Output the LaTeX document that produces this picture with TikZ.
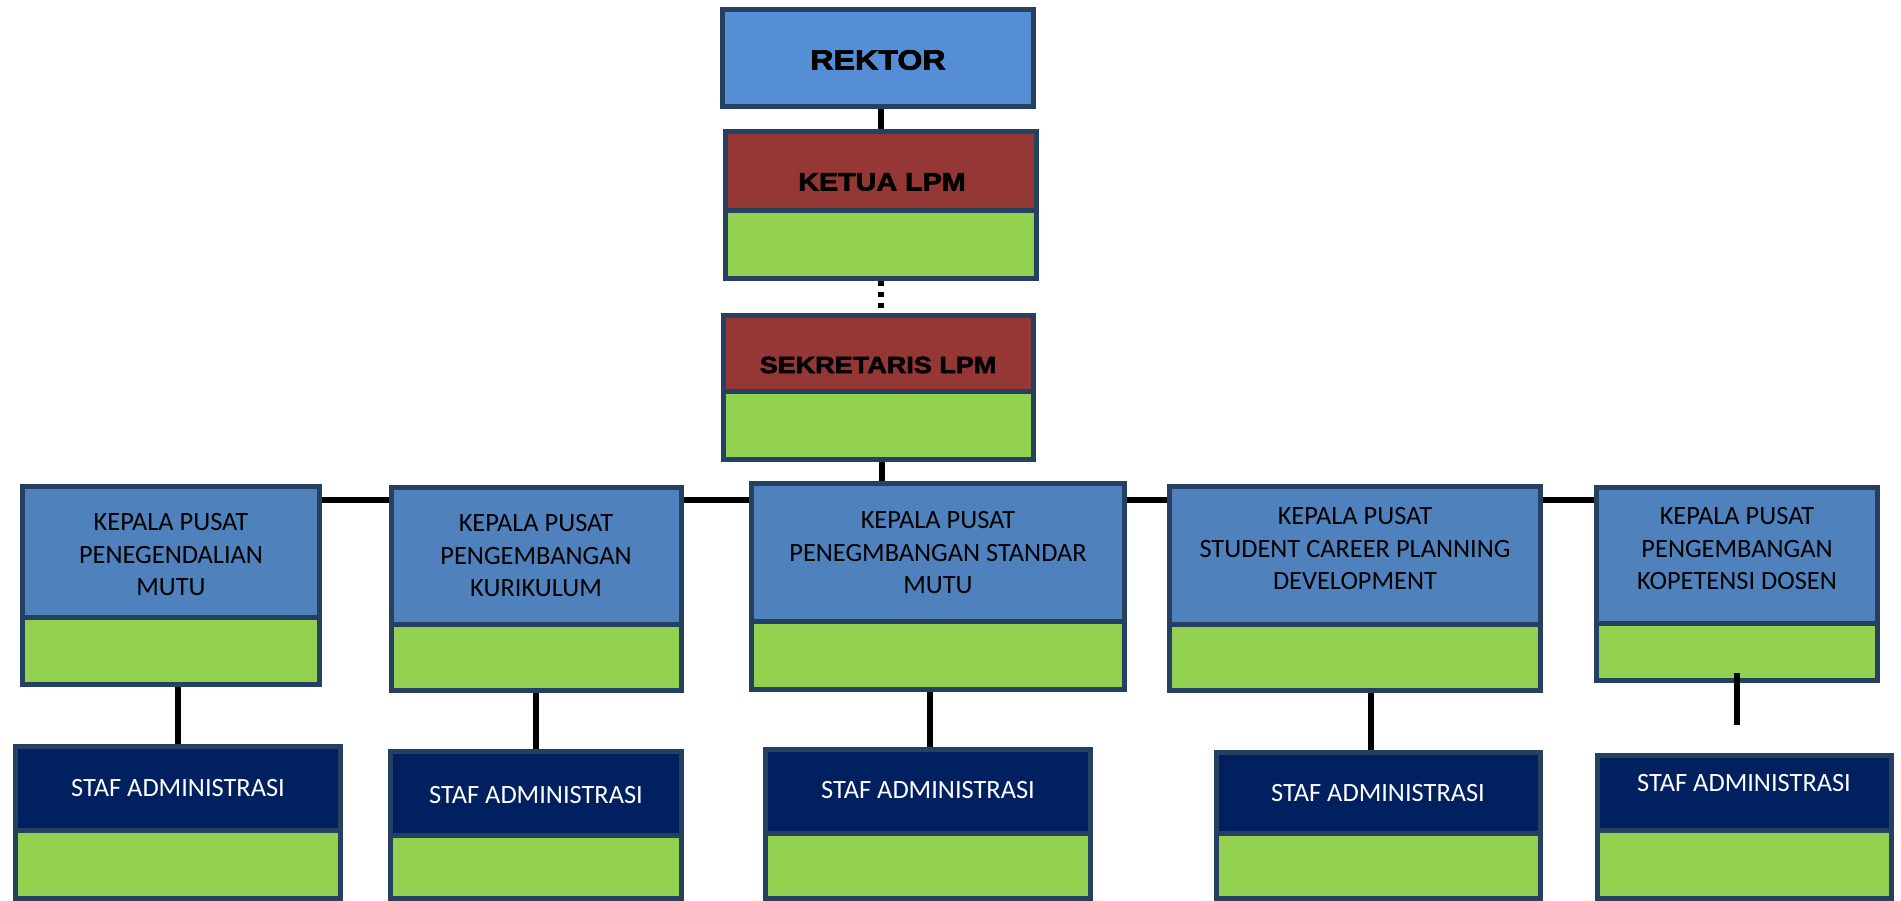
\documentclass[tikz,border=0pt]{standalone}
\usepackage{fontspec}
\usetikzlibrary{backgrounds}
\newfontfamily\calfont{Carlito}
\newfontfamily\hdfont{Liberation Sans Bold}[FakeStretch=1.15, FakeBold=2.5]
\definecolor{rek}{HTML}{558ED5}
\definecolor{kblue}{HTML}{4F81BD}
\definecolor{lred}{HTML}{953735}
\definecolor{grn}{HTML}{92D050}
\definecolor{navy}{HTML}{002060}
\definecolor{edge}{HTML}{254061}
\tikzset{
  box/.style={draw=edge, line width=5pt, rectangle, inner sep=0pt, outer sep=2.5pt},
  conn/.style={draw=black, line width=6pt},
  dotconn/.style={draw=black, line width=6pt, dash pattern=on 5pt off 6pt},
  headtxt/.style={font=\hdfont, text=black, inner sep=0pt},
  kptxt/.style={font=\calfont\fontsize{26.4}{32.5}\selectfont, text=black, align=center, inner sep=0pt},
  stafftxt/.style={font=\calfont\fontsize{26.4}{32.5}\selectfont, text=white, inner sep=0pt}
}
% #1 name, #2 x1, #3 x2, #4 y1, #5 ymid, #6 y2, #7 top fill (outer pixel edges)
\newcommand\orgpair[7]{%
  \pgfmathsetmacro\obx{(#2+#3)/2}%
  \pgfmathsetmacro\obw{#3-#2-5}%
  \pgfmathsetmacro\obt{(#4+2.5+#5)/2}%
  \pgfmathsetmacro\obh{#5-#4-2.5}%
  \pgfmathsetmacro\obg{(#5+#6-2.5)/2}%
  \pgfmathsetmacro\obk{#6-2.5-#5}%
  \node[box, fill=grn, minimum width=\obw pt, minimum height=\obk pt] (#1g) at (\obx,\obg) {};
  \node[box, fill=#7, minimum width=\obw pt, minimum height=\obh pt] (#1) at (\obx,\obt) {};
}
\begin{document}
\begin{tikzpicture}[x=1pt, y=-1pt]
\useasboundingbox (0,0) rectangle (1901,901);

% top chain
\node[box, fill=rek, minimum width=311pt, minimum height=97pt] (rektor) at (878,58) {};
\orgpair{ketua}{723}{1039}{129}{211}{281}{lred}
\orgpair{sek}{721}{1036}{313}{391}{462}{lred}

% heads of centres
\orgpair{box1}{20}{322}{484}{617}{687}{kblue}
\orgpair{box2}{389}{684}{485}{624}{693}{kblue}
\orgpair{box3}{749}{1127}{481}{621}{692}{kblue}
\orgpair{box4}{1167}{1543}{484}{624}{693}{kblue}
\orgpair{box5}{1594}{1880}{485}{623}{683}{kblue}

% staff
\orgpair{staff1}{13}{343}{744}{830}{901}{navy}
\orgpair{staff2}{388}{684}{749}{835}{901}{navy}
\orgpair{staff3}{763}{1093}{747}{833}{901}{navy}
\orgpair{staff4}{1214}{1543}{750}{833}{901}{navy}
\orgpair{staff5}{1595}{1894}{753}{830}{901}{navy}

% texts
\node[headtxt, font=\hdfont\fontsize{28}{32}\selectfont] (trek) at (878,60) {REKTOR};
\node[headtxt, font=\hdfont\fontsize{25}{30}\selectfont] (tket) at (882,182) {KETUA LPM};
\node[headtxt, font=\hdfont\fontsize{23.5}{28}\selectfont] (tsek) at (878,365) {SEKRETARIS LPM};

\node[kptxt] (t1) at (171,555) {KEPALA PUSAT\\PENEGENDALIAN\\MUTU};
\node[kptxt] (t2) at (536,556) {KEPALA PUSAT\\PENGEMBANGAN\\KURIKULUM};
\node[kptxt] (t3) at (938,553) {KEPALA PUSAT\\PENEGMBANGAN STANDAR\\MUTU};
\node[kptxt] (t4) at (1355,549) {KEPALA PUSAT\\STUDENT CAREER PLANNING\\DEVELOPMENT};
\node[kptxt] (t5) at (1737,549) {KEPALA PUSAT\\PENGEMBANGAN\\KOPETENSI DOSEN};

\node[stafftxt] (s1) at (178,788) {STAF ADMINISTRASI};
\node[stafftxt] (s2) at (536,795) {STAF ADMINISTRASI};
\node[stafftxt] (s3) at (928,790) {STAF ADMINISTRASI};
\node[stafftxt] (s4) at (1378,793) {STAF ADMINISTRASI};
\node[stafftxt] (s5) at (1744,783) {STAF ADMINISTRASI};

% connectors
\begin{pgfonlayer}{background}
\fill[white] (0,0) rectangle (1901,901);
\draw[conn] (ketua.north) -- (ketua.north |- rektor.south);
\draw[dotconn] (ketuag.south) -- (ketuag.south |- sek.north);
\draw[conn] ([xshift=3.5pt]sekg.south) -- ([xshift=3.5pt]sekg.south |- box3.north);
\draw[conn] ([yshift=-16pt]box1.north east) -- ([yshift=-16pt]box1.north east -| box5.west);
\draw[conn] (staff1.north) -- (staff1.north |- box1g.south);
\draw[conn] (staff2.north) -- (staff2.north |- box2g.south);
\draw[conn] ([xshift=2pt]staff3.north) -- ([xshift=2pt]staff3.north |- box3g.south);
\draw[conn] ([xshift=-8pt]staff4.north) -- ([xshift=-8pt]staff4.north |- box4g.south);
\end{pgfonlayer}
\draw[conn] ([yshift=10pt]box5g.south) -- ([yshift=10pt]box5g.south |- 0,735);
\end{tikzpicture}
\end{document}
